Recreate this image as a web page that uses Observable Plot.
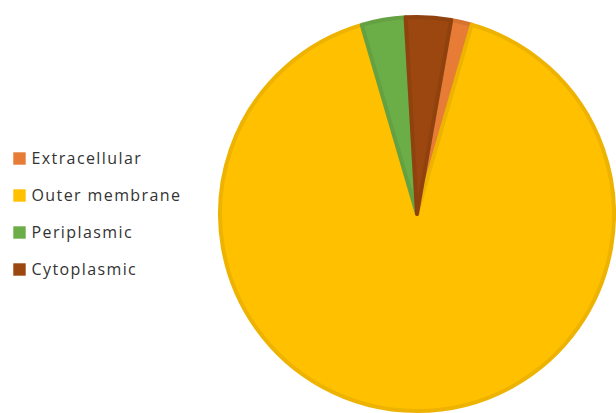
<!DOCTYPE html>
<html>
<head>
<meta charset="utf-8">
<script src="https://cdn.jsdelivr.net/npm/d3@7"></script>
<script src="https://cdn.jsdelivr.net/npm/@observablehq/plot@0.6"></script>
<style>
  html, body { margin: 0; padding: 0; background: #fff; }
  #chart svg { display: block; }
</style>
</head>
<body>
<div id="chart"></div>
<script>
// Data (percent of proteins by subcellular location)
const categories = ["Extracellular", "Outer membrane", "Periplasmic", "Cytoplasmic"];
const values = [1.7, 91.0, 3.6, 3.7];
const colors = ["#E67C35", "#FFC000", "#6BAD47", "#9B470F"];

const data = categories.map((c, i) => ({category: c, value: values[i]}));

// Layout
const W = 616, H = 413;
const cx = 417, cy = 214, R = 199;
const rotation = 10; // degrees, first slice angle

function pieMark(index, scales, channels, dimensions, context) {
  const pie = d3.pie().value(d => d.value).sort(null)
    .startAngle(rotation * Math.PI / 180)
    .endAngle((rotation + 360) * Math.PI / 180);
  const arc = d3.arc().innerRadius(0).outerRadius(R - 2);
  const g = d3.create("svg:g").attr("transform", `translate(${cx},${cy})`);
  g.selectAll("path")
    .data(pie(data))
    .join("path")
    .attr("d", arc)
    .attr("fill", d => scales.color(d.data.category))
    .attr("stroke", d => d3.color(scales.color(d.data.category)).darker(0.2))
    .attr("stroke-width", 4)
    .attr("stroke-linejoin", "round");
  return g.node();
}

const chart = Plot.plot({
  width: W,
  height: H,
  margin: 0,
  x: {type: "linear", domain: [0, W], range: [0, W], axis: null},
  y: {type: "point", domain: categories, range: [157, 270], padding: 0, axis: null},
  color: {domain: categories, range: colors},
  style: {fontFamily: "'Open Sans', sans-serif", background: "#fff"},
  marks: [
    pieMark,
    Plot.dot(categories, {x: () => 19, y: d => d, fill: d => d, symbol: "square", r: 7, stroke: null}),
    Plot.text(categories, {x: () => 31, y: d => d, text: d => d, textAnchor: "start", fontSize: 16, fill: "#333", dy: 0.5})
  ]
});
chart.querySelectorAll("text").forEach(t => t.setAttribute("letter-spacing", "1.4"));
document.getElementById("chart").appendChild(chart);
</script>
</body>
</html>
